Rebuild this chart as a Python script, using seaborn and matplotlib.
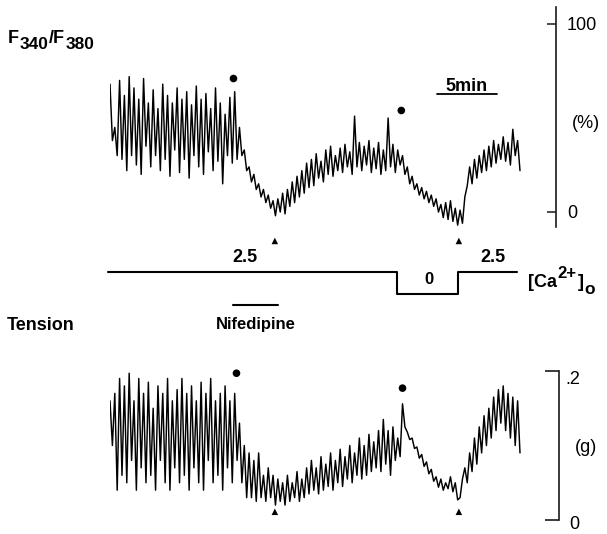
import numpy as np
import matplotlib
matplotlib.use("Agg")
import matplotlib.pyplot as plt
import seaborn as sns

# ---------------- data ----------------
step_min = 0.2  # sampling step of the traces, minutes

fura_ratio_pct = [
    68, 38, 45, 30, 70, 28, 62, 22, 72, 30,
    66, 25, 60, 20, 71, 35, 58, 24, 65, 30,
    55, 22, 68, 28, 62, 19, 58, 33, 66, 21,
    60, 28, 64, 18, 57, 30, 67, 24, 60, 20,
    63, 32, 55, 22, 66, 27, 58, 15, 52, 30,
    61, 26, 64, 28, 45, 30, 33, 22, 24, 16,
    20, 12, 15, 8, 12, 5, 9, 2, 6, -2,
    7, 0, 10, -1, 12, 3, 16, 5, 19, 8,
    22, 10, 26, 13, 28, 14, 31, 18, 27, 16,
    33, 20, 35, 19, 30, 22, 34, 21, 36, 24,
    32, 20, 51, 24, 37, 22, 35, 25, 38, 21,
    34, 23, 37, 20, 33, 22, 50, 24, 36, 21,
    33, 25, 30, 20, 24, 15, 19, 12, 15, 9,
    13, 7, 11, 5, 9, 3, 7, 0, 4, -3,
    5, -4, 6, -5, 2, -7, 1, -6, 8, 14,
    24, 15, 28, 18, 30, 21, 33, 22, 35, 24,
    38, 26, 36, 28, 40, 27, 37, 25, 44, 30,
    38, 22,
]

tension_g = [
    0.16, 0.10, 0.17, 0.04, 0.19, 0.06, 0.18, 0.05, 0.197, 0.08,
    0.16, 0.04, 0.19, 0.07, 0.17, 0.05, 0.185, 0.06, 0.15, 0.04,
    0.18, 0.08, 0.17, 0.05, 0.19, 0.04, 0.16, 0.07, 0.175, 0.05,
    0.19, 0.06, 0.17, 0.04, 0.18, 0.07, 0.16, 0.05, 0.185, 0.04,
    0.17, 0.08, 0.19, 0.05, 0.16, 0.06, 0.17, 0.04, 0.18, 0.07,
    0.16, 0.05, 0.17, 0.08, 0.13, 0.05, 0.10, 0.03, 0.09, 0.03,
    0.08, 0.025, 0.09, 0.03, 0.06, 0.025, 0.07, 0.03, 0.06, 0.02,
    0.055, 0.025, 0.05, 0.02, 0.06, 0.025, 0.05, 0.03, 0.065, 0.025,
    0.055, 0.03, 0.07, 0.035, 0.08, 0.04, 0.07, 0.035, 0.085, 0.04,
    0.075, 0.045, 0.09, 0.04, 0.08, 0.05, 0.095, 0.045, 0.085, 0.055,
    0.10, 0.05, 0.09, 0.06, 0.11, 0.055, 0.10, 0.06, 0.115, 0.065,
    0.105, 0.07, 0.12, 0.065, 0.135, 0.075, 0.12, 0.06, 0.125, 0.08,
    0.11, 0.085, 0.156, 0.125, 0.118, 0.108, 0.110, 0.096, 0.098, 0.083,
    0.088, 0.072, 0.078, 0.062, 0.068, 0.052, 0.058, 0.044, 0.055, 0.040,
    0.050, 0.042, 0.058, 0.038, 0.050, 0.027, 0.030, 0.055, 0.07, 0.05,
    0.09, 0.065, 0.11, 0.075, 0.125, 0.09, 0.14, 0.10, 0.15, 0.11,
    0.165, 0.12, 0.175, 0.13, 0.18, 0.12, 0.17, 0.11, 0.165, 0.10,
    0.16, 0.09,
]

dot_time_top = [10.3, 24.3]
dot_val_top = [71, 54]
dot_time_bottom = [10.55, 24.4]
dot_val_bottom = [0.197, 0.177]
triangle_time = [13.75, 29.1]
triangle_level_top = [-15.4, -15.4]
triangle_level_bottom = [0.011, 0.011]

ca_time = [-0.17, 23.94, 29.02, 33.94]
ca_mM = [2.5, 0, 2.5, 2.5]
ca_labels = ["2.5", "0", "2.5"]
ca_label_time = [11.25, 26.6, 31.94]
ca_label_level = [4.2, 1.6, 4.1]

nifedipine_time = [10.25, 14.0]
scalebar_time = [27.25, 32.25]
scalebar_text = "5min"

top_ticks = [0, 100]
top_ticklabels = ["0", "100"]
bottom_ticks = [0, 0.2]
bottom_ticklabels = ["0", ".2"]

# ---------------- figure ----------------
sns.set_style("white")
plt.rcParams["font.family"] = ["Liberation Sans", "DejaVu Sans"]
plt.rcParams["text.color"] = "black"
plt.rcParams["axes.labelcolor"] = "black"
plt.rcParams["xtick.color"] = "black"
plt.rcParams["ytick.color"] = "black"

W, H = 607, 534
fig = plt.figure(figsize=(W / 100, H / 100), dpi=100)
fig.patch.set_facecolor("white")


def rect(x0, y0, x1, y1):
    return [x0 / W, 1 - y1 / H, (x1 - x0) / W, (y1 - y0) / H]


PXM = 410 / 34.2  # pixels per minute
TOP_PX_PCT = 1.88
CA_PX_MM = 8.8
TRACE_LW = 1.05
AX_COLOR = "#1a1a1a"

t_top = np.arange(len(fura_ratio_pct)) * step_min
t_bot = np.arange(len(tension_g)) * step_min

# background axes for free text (pixel coordinates)
ax_bg = fig.add_axes([0, 0, 1, 1])
ax_bg.set_xlim(0, W)
ax_bg.set_ylim(H, 0)
ax_bg.axis("off")

# ---- top panel: F340/F380 ----
ax_top = fig.add_axes(rect(110, 7, 556, 227))
ax_top.set_facecolor("none")
sns.lineplot(x=t_top, y=fura_ratio_pct, ax=ax_top, color="black",
             linewidth=TRACE_LW, estimator=None, sort=False)
sns.scatterplot(x=dot_time_top, y=dot_val_top, ax=ax_top, color="black",
                s=30, marker="o", edgecolor="none", clip_on=False)
sns.scatterplot(x=triangle_time, y=triangle_level_top, ax=ax_top,
                color="black", s=22, marker="^", edgecolor="none",
                clip_on=False)
ax_top.set_xlim(0, 446 / PXM)
ax_top.set_ylim(-(227 - 212) / TOP_PX_PCT, 100 + (24 - 7) / TOP_PX_PCT)
for s in ["top", "left", "bottom"]:
    ax_top.spines[s].set_visible(False)
ax_top.spines["right"].set_linewidth(1.2)
ax_top.spines["right"].set_color(AX_COLOR)
ax_top.set_xticks([])
ax_top.yaxis.tick_right()
ax_top.set_yticks(top_ticks)
ax_top.set_yticklabels(top_ticklabels)
ax_top.tick_params(axis="y", direction="in", length=6.5, width=1.1,
                   labelsize=13, pad=8, color=AX_COLOR, labelcolor="black")
ax_top.set_xlabel("")
ax_top.set_ylabel("")
# scale bar
sns.lineplot(x=scalebar_time, y=[62.8, 62.8], ax=ax_top, color="black",
             linewidth=1.3, estimator=None)
ax_top.text(np.mean(scalebar_time), 66.5, scalebar_text, ha="center",
            va="center", fontsize=13, fontweight="bold")

# ---- [Ca2+]o protocol ----
ax_ca = fig.add_axes(rect(110, 250, 556, 310))
ax_ca.set_facecolor("none")
sns.lineplot(x=ca_time, y=ca_mM, ax=ax_ca, color="black", linewidth=1.5,
             estimator=None, sort=False, drawstyle="steps-post")
sns.lineplot(x=nifedipine_time, y=[-1.25, -1.25], ax=ax_ca, color="black",
             linewidth=1.5, estimator=None)
for ln in ax_ca.lines:
    ln.set_clip_on(False)
ax_ca.set_xlim(0, 446 / PXM)
ax_ca.set_ylim(-(310 - 294) / CA_PX_MM, 2.5 + (272 - 250) / CA_PX_MM)
ax_ca.axis("off")
for lab, tx, ty in zip(ca_labels, ca_label_time, ca_label_level):
    ax_ca.text(tx, ty, lab, ha="center", va="center",
               fontsize=13 if lab != "0" else 12, fontweight="bold")

# ---- bottom panel: tension ----
ax_bot = fig.add_axes(rect(110, 371, 559, 520))
ax_bot.set_facecolor("none")
sns.lineplot(x=t_bot, y=tension_g, ax=ax_bot, color="black",
             linewidth=TRACE_LW, estimator=None, sort=False)
sns.scatterplot(x=dot_time_bottom, y=dot_val_bottom, ax=ax_bot,
                color="black", s=30, marker="o", edgecolor="none",
                clip_on=False)
sns.scatterplot(x=triangle_time, y=triangle_level_bottom, ax=ax_bot,
                color="black", s=22, marker="^", edgecolor="none",
                clip_on=False)
ax_bot.set_xlim(0, 449 / PXM)
ax_bot.set_ylim(0, 0.2)
for s in ["top", "left", "bottom"]:
    ax_bot.spines[s].set_visible(False)
ax_bot.spines["right"].set_linewidth(1.2)
ax_bot.spines["right"].set_color(AX_COLOR)
ax_bot.set_xticks([])
ax_bot.yaxis.tick_right()
ax_bot.set_yticks(bottom_ticks)
ax_bot.set_yticklabels([])
ax_bot.tick_params(axis="y", direction="in", length=10, width=1.2,
                   color=AX_COLOR)
ax_bot.set_xlabel("")
ax_bot.set_ylabel("")

# ---- free text in pixel coordinates ----
ax_bg.text(565, 371, bottom_ticklabels[1], ha="left", va="top", fontsize=13)
ax_bg.text(569, 516, bottom_ticklabels[0], ha="left", va="top", fontsize=13)
ax_bg.text(572, 123, "(%)", ha="left", va="center", fontsize=13)
ax_bg.text(575, 447, "(g)", ha="left", va="center", fontsize=13)
ax_bg.text(7, 325, "Tension", ha="left", va="center", fontsize=13,
           fontweight="bold")
ax_bg.text(256, 325, "Nifedipine", ha="center", va="center", fontsize=12,
           fontweight="bold")

# F340/F380 label
f1 = ax_bg.text(8, 43, "F", ha="left", va="baseline", fontsize=13,
                fontweight="bold")
f2 = ax_bg.annotate("340", xy=(1, 0), xycoords=f1, xytext=(0.5, -3.5),
                    textcoords="offset points", ha="left", va="bottom",
                    fontsize=12.5, fontweight="bold")
f3 = ax_bg.annotate("/F", xy=(1, 0), xycoords=(f2, f1), xytext=(0, 0),
                    textcoords="offset points", ha="left", va="bottom",
                    fontsize=13, fontweight="bold")
f4 = ax_bg.annotate("380", xy=(1, 0), xycoords=(f3, f2), xytext=(0.5, 0),
                    textcoords="offset points", ha="left", va="bottom",
                    fontsize=12.5, fontweight="bold")

# [Ca2+]o label
c1 = ax_bg.text(528, 287, "[Ca", ha="left", va="baseline", fontsize=13,
                fontweight="bold")
c2 = ax_bg.annotate("2+", xy=(1, 1), xycoords=c1, xytext=(0.5, -5),
                    textcoords="offset points", ha="left", va="bottom",
                    fontsize=12, fontweight="bold")
c3 = ax_bg.annotate("]", xy=(1, 0), xycoords=(c2, c1), xytext=(0.5, 0),
                    textcoords="offset points", ha="left", va="bottom",
                    fontsize=13, fontweight="bold")
c4 = ax_bg.annotate("o", xy=(1, 0), xycoords=c3, xytext=(0.5, -4),
                    textcoords="offset points", ha="left", va="bottom",
                    fontsize=12.5, fontweight="bold")

fig.savefig("out.png", dpi=100, facecolor="white")
